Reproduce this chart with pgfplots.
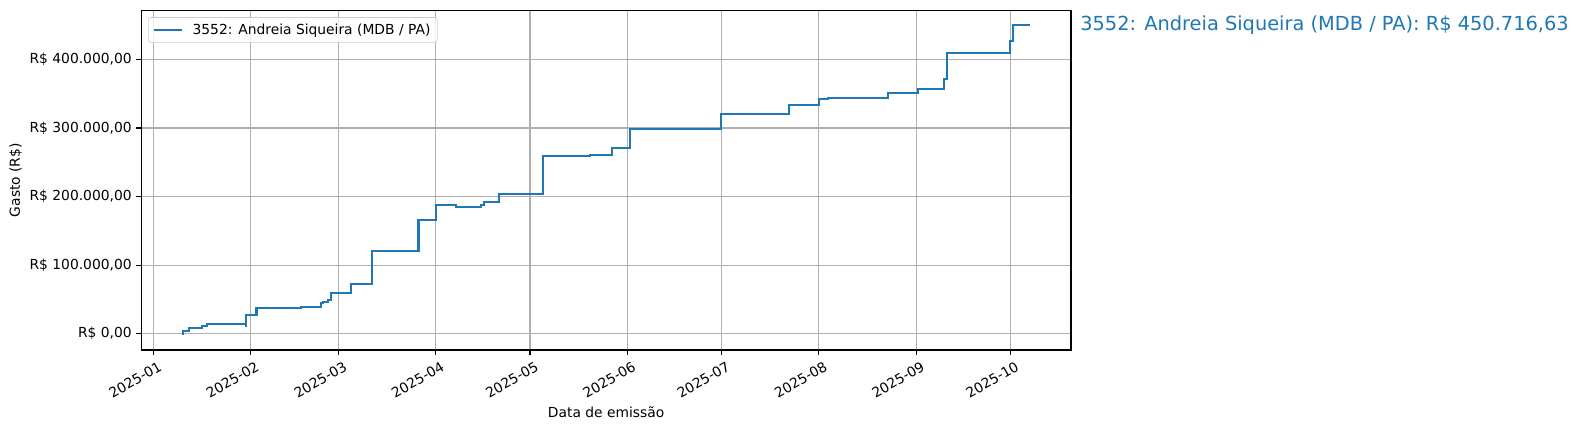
\documentclass[border=0pt]{standalone}
\usepackage{pgfplots}
\pgfplotsset{compat=1.18}
\usepackage{fontspec}
\setmainfont{DejaVu Sans}
\definecolor{mplblue}{HTML}{1F77B4}
\definecolor{gridgray}{HTML}{B0B0B0}
\definecolor{leggray}{HTML}{CCCCCC}
\begin{document}
\begin{tikzpicture}
\begin{axis}[
  at={(0,0)}, anchor=south west,
  scale only axis,
  width=669.4bp, height=244.6bp,
  xmin=-3.82, xmax=292.35,
  ymin=-23800, ymax=471700,
  axis line style={line width=0.8bp},
  tick align=outside,
  major tick length=3.5bp,
  every tick/.style={line width=0.8bp, black},
  xtick pos=left, ytick pos=left,
  xtick={0,31,59,90,120,151,181,212,243,273},
  xticklabels={2025-01,2025-02,2025-03,2025-04,2025-05,2025-06,2025-07,2025-08,2025-09,2025-10},
  ytick={0,100000,200000,300000,400000},
  yticklabels={{R\$ 0,00},{R\$ 100.000,00},{R\$ 200.000,00},{R\$ 300.000,00},{R\$ 400.000,00}},
  scaled y ticks=false,
  xticklabel style={rotate=30, anchor=north east, font=\fontsize{10}{12}\selectfont, inner sep=0pt, yshift=-5bp, xshift=0.8bp},
  yticklabel style={font=\fontsize{10}{12}\selectfont, inner sep=0pt, xshift=-3.2bp},
  grid=major,
  major grid style={gridgray, line width=0.8bp},
  xlabel={Data de emissão},
  ylabel={Gasto (R\$)},
  xlabel style={at={([yshift=-48.5bp]axis description cs:0.5,0)}, anchor=base, font=\fontsize{10}{12}\selectfont},
  ylabel style={at={([xshift=-90.5bp]axis description cs:0,0.5)}, anchor=center, font=\fontsize{10}{12}\selectfont},
  legend style={at={(axis description cs:0,1)}, anchor=north west, xshift=4.9bp, yshift=-5bp,
    draw=leggray, rounded corners=2bp, fill=white, fill opacity=0.8, text opacity=1,
    font=\fontsize{10}{12}\selectfont, inner xsep=3bp, inner ysep=2.5bp},
  legend cell align=left,
  legend image code/.code={\draw[#1, line width=1.5bp] (0bp,0bp) -- (20.4bp,0bp); \path (25.4bp,0bp);},
  clip=false,
]
\addplot[const plot, mplblue, line width=1.5bp] coordinates {
(9.3,0)
(9.35,3800)
(11.5,8000)
(15.4,11100)
(17.0,13700)
(29.4,11100)
(29.5,27200)
(32.9,37400)
(47.0,38900)
(53.3,44700)
(54.2,46200)
(55.6,48700)
(56.5,59600)
(62.9,72800)
(69.7,120700)
(84.5,166000)
(90.1,187900)
(96.4,185000)
(104.4,187500)
(105.3,192200)
(110.1,204000)
(124.1,259500)
(139.2,261000)
(146.1,271100)
(151.8,298500)
(180.9,320900)
(202.5,334000)
(212.1,341900)
(214.8,343400)
(234.0,350600)
(243.7,356500)
(251.8,372000)
(252.8,410000)
(272.9,427500)
(273.8,450716.63)
(279.3,450716.63)
};
\addlegendentry{3552: Andreia Siqueira (MDB / PA)}
\node[anchor=west, inner sep=0pt, xshift=6.5bp, text=mplblue, font=\fontsize{14}{16}\selectfont] at (axis cs:292.35,450716.63) {3552: Andreia Siqueira (MDB / PA): R\$ 450.716,63};
\end{axis}
\pgfresetboundingbox
\path[use as bounding box] (-101.7bp,-57.6bp) rectangle (1034.4bp,252.0bp);
\end{tikzpicture}
\end{document}
